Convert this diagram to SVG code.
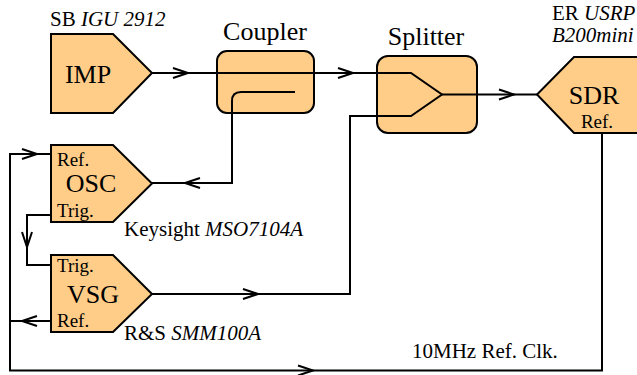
<svg xmlns="http://www.w3.org/2000/svg" xmlns:xlink="http://www.w3.org/1999/xlink" width="637" height="375" viewBox="0 0 637 375" font-family="'Liberation Serif', 'Times New Roman', Times, serif">
<style>
.blk{fill:#FFCD87;stroke:#000;stroke-width:2;stroke-linejoin:miter}
.ln{fill:none;stroke:#000;stroke-width:2;stroke-linejoin:miter}
.chev{fill:none;stroke:#000;stroke-width:2}
.t{font-family:'Liberation Serif','Times New Roman',Times,serif;fill:#000}
.big{font-size:26px}
.sm{font-size:19px}
.lab{font-size:21px}
.it{font-style:italic}
</style>
<defs>
<path id="chev" class="chev" d="M-15,-5 L0,0 L-15,5"/>
</defs>
<rect width="637" height="375" fill="#fff"/>
<g id="connectors">
<path class="ln" d="M152,73 H378"/>
<path class="ln" d="M295,92 H241 Q232,92 232,101 V183 H152"/>
<path class="ln" d="M378,73 H411 L442,94.5 L411,116 H350 V294 H152"/>
<path class="ln" d="M442,94.5 H537"/>
<path class="ln" d="M51,215 H27 V265 H51"/>
<path class="ln" d="M51,321 H10"/>
<path class="ln" d="M602,133 V370.5 H10 V154 H51"/>
<use xlink:href="#chev" transform="translate(188,73)"/>
<use xlink:href="#chev" transform="translate(353,73)"/>
<use xlink:href="#chev" transform="translate(514,94.5)"/>
<use xlink:href="#chev" transform="translate(185,183) rotate(180)"/>
<use xlink:href="#chev" transform="translate(258,294)"/>
<use xlink:href="#chev" transform="translate(27,247) rotate(90)"/>
<use xlink:href="#chev" transform="translate(22,321) rotate(180)"/>
<use xlink:href="#chev" transform="translate(313,370.5)"/>
<use xlink:href="#chev" transform="translate(37,154)"/>
</g>
<g id="coupler">
<rect class="blk" x="217" y="51" width="97" height="62" rx="10"/>
<path class="ln" d="M217,73 H314"/>
<path class="ln" d="M295,92 H241 Q232,92 232,101 V113"/>
<text class="t big" x="265" y="40" text-anchor="middle">Coupler</text>
</g>
<g id="splitter">
<rect class="blk" x="377" y="56" width="100" height="77" rx="11"/>
<path class="ln" d="M377,73 H411 L442,94.5 L411,116 H377"/>
<path class="ln" d="M442,94.5 H477"/>
<text class="t big" x="426" y="45" text-anchor="middle">Splitter</text>
</g>
<g id="imp">
<path class="blk" d="M51,34 H113 L152,73 L113,113 H51 Z"/>
<text class="t big" x="88" y="83" text-anchor="middle">IMP</text>
<text class="t lab" x="50" y="26">SB <tspan class="it">IGU 2912</tspan></text>
</g>
<g id="sdr">
<path class="blk" d="M645,57 H574 L537,94.5 L574,133 H645 Z"/>
<text class="t big" x="594" y="104" text-anchor="middle">SDR</text>
<text class="t sm" x="597" y="128" text-anchor="middle">Ref.</text>
<text class="t lab" x="552" y="20">ER <tspan class="it">USRP</tspan></text>
<text class="t lab it" x="552" y="42">B200mini</text>
</g>
<g id="osc">
<path class="blk" d="M51,145 H113 L152,183.5 L113,222 H51 Z"/>
<text class="t sm" x="57" y="166">Ref.</text>
<text class="t big" x="91" y="192" text-anchor="middle">OSC</text>
<text class="t sm" x="57" y="217">Trig.</text>
<text class="t lab" x="124" y="236">Keysight <tspan class="it">MSO7104A</tspan></text>
</g>
<g id="vsg">
<path class="blk" d="M51,255 H113 L152,294 L113,332 H51 Z"/>
<text class="t sm" x="57" y="272">Trig.</text>
<text class="t big" x="93" y="303" text-anchor="middle">VSG</text>
<text class="t sm" x="57" y="327">Ref.</text>
<text class="t lab" x="124" y="340">R&amp;S <tspan class="it">SMM100A</tspan></text>
</g>
<g id="clk">
<text class="t lab" x="412" y="358">10MHz Ref. Clk.</text>
</g>
</svg>
